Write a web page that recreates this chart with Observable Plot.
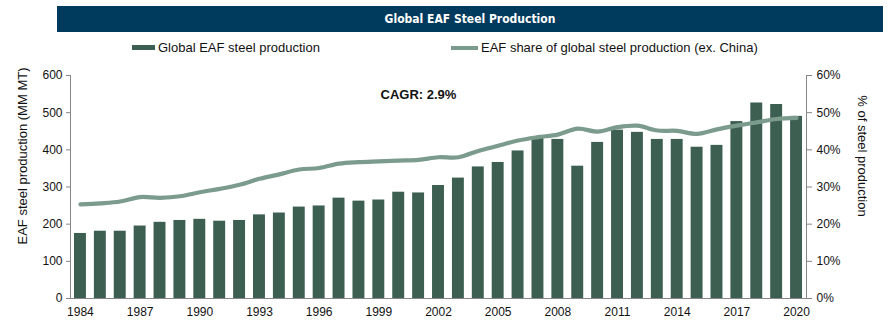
<!DOCTYPE html>
<html>
<head>
<meta charset="utf-8">
<script src="https://cdn.jsdelivr.net/npm/d3@7"></script>
<script src="https://cdn.jsdelivr.net/npm/@observablehq/plot@0.6"></script>
<style>
  html, body { margin: 0; padding: 0; background: #fff; }
  #wrap { position: relative; width: 890px; height: 332px; overflow: hidden; font-family: "Liberation Sans", Arial, sans-serif; }
  #title { position: absolute; left: 57px; top: 6px; width: 826px; height: 26px; background: #003a5c; color: #fff;
    font: bold 12px "Liberation Sans Narrow", "Arial Narrow", "DejaVu Sans Condensed", sans-serif; text-align: center; line-height: 26px; }
  .leg { position: absolute; top: 40px; height: 16px; font-size: 13px; line-height: 16px; color: #111; white-space: nowrap; }
  .sw { display: inline-block; vertical-align: middle; margin-right: 3px; position: relative; top: -1px; }
  #chart { position: absolute; left: 0; top: 60px; }
</style>
</head>
<body>
<div id="wrap">
  <div id="title">Global EAF Steel Production</div>
  <div class="leg" style="left:132px"><span class="sw" style="width:23px;height:5px;background:#3d5f52"></span>Global EAF steel production</div>
  <div class="leg" style="left:451px"><span class="sw" style="width:27px;height:4px;background:#7b9b8c"></span>EAF share of global steel production (ex. China)</div>
  <div id="chart"></div>
</div>
<script>
const years = [1984,1985,1986,1987,1988,1989,1990,1991,1992,1993,1994,1995,1996,1997,1998,1999,2000,2001,2002,
  2003,2004,2005,2006,2007,2008,2009,2010,2011,2012,2013,2014,2015,2016,2017,2018,2019,2020];
const production = [175,181,181,195,205,210,213,208,210,225,230,246,249,270,262,265,286,284,304,
  324,354,366,397,433,428,356,420,453,447,428,428,407,412,476,526,522,490];
const sharePct = [25.3,25.6,26.1,27.3,27.1,27.5,28.6,29.5,30.6,32.2,33.4,34.7,35.1,36.3,36.7,36.9,37.1,37.3,38.0,
  38.0,39.7,41.1,42.5,43.4,44.1,45.7,44.9,46.1,46.5,45.2,45.1,44.3,45.5,46.5,47.4,48.3,48.6];
const xTickYears = [1984,1987,1990,1993,1996,1999,2002,2005,2008,2011,2014,2017,2020];
const leftTicks = [0,100,200,300,400,500,600];
const rightTicksPct = [0,10,20,30,40,50,60];
const cagrLabel = "CAGR: 2.9%";
const leftTitle = "EAF steel production (MM MT)";
const rightTitle = "% of steel production";

const barColor = "#3d5f52";
const lineColor = "#7b9b8c";
const axisColor = "#868686";
const pctToLeft = 10; // 60% <-> 600

const rows = years.map((y, i) => ({year: y, prod: production[i], share: sharePct[i] * pctToLeft}));

const chart = Plot.plot({
  width: 890,
  height: 272,
  marginLeft: 70,
  marginRight: 84,
  marginTop: 15,
  marginBottom: 34,
  style: {fontFamily: "'Liberation Sans', Arial, sans-serif", fontSize: "12px", color: "#111", background: "transparent"},
  x: {type: "band", domain: years, paddingInner: 0.4, paddingOuter: 0.2, label: null},
  y: {domain: [0, 600], label: null},
  marks: [
    Plot.barY(rows, {x: "year", y: "prod", fill: barColor}),
    Plot.line(rows, {x: "year", y: "share", stroke: lineColor, strokeWidth: 4.2, curve: "catmull-rom"}),
    Plot.ruleY([0], {stroke: axisColor, strokeWidth: 1}),
    Plot.frame({anchor: "left", stroke: axisColor}),
    Plot.frame({anchor: "right", stroke: axisColor}),
    Plot.axisX(xTickYears, {tickSize: 0, tickPadding: 9, fontSize: 12, label: null, tickFormat: d => String(d)}),
    Plot.axisY(leftTicks, {anchor: "left", tickSize: 4, tickPadding: 4, stroke: axisColor, fontSize: 12, label: null}),
    Plot.axisY(rightTicksPct.map(d => d * pctToLeft), {anchor: "right", tickSize: 5, tickPadding: 5, stroke: axisColor, fontSize: 12,
      tickFormat: d => (d / pctToLeft) + "%", label: null}),
    Plot.text([cagrLabel], {frameAnchor: "top-left", text: d => d, dx: 310, dy: 19, lineAnchor: "middle", textAnchor: "start",
      fontWeight: "bold", fontSize: 13, fill: "#111"}),
    Plot.text([leftTitle], {frameAnchor: "left", text: d => d, rotate: -90, dx: -48, dy: -31, textAnchor: "middle", lineAnchor: "middle",
      fontSize: 13, fill: "#111"}),
    Plot.text([rightTitle], {frameAnchor: "right", text: d => d, rotate: 90, dx: 56, dy: -31, textAnchor: "middle", lineAnchor: "middle",
      fontSize: 13, fill: "#111"})
  ]
});
document.getElementById("chart").appendChild(chart);
</script>
</body>
</html>
